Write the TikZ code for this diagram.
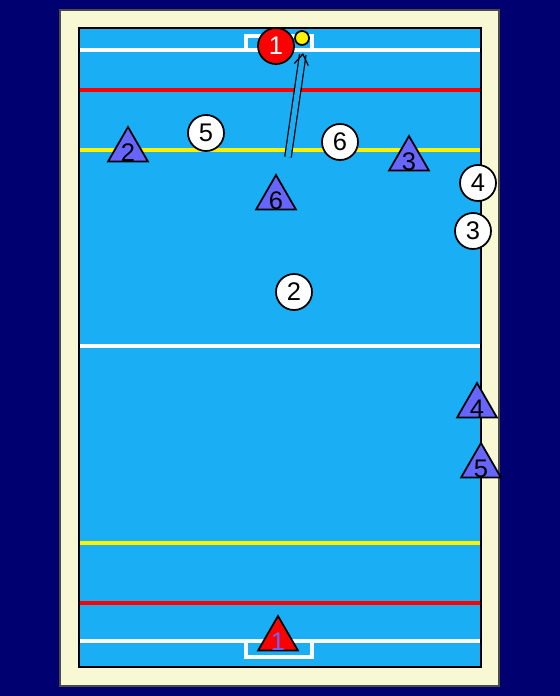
\documentclass[tikz,border=0pt]{standalone}
\usepackage{fontspec}
\setmainfont{Liberation Sans}
\usetikzlibrary{arrows.meta, shapes.geometric}
\definecolor{deepnavy}{RGB}{0,0,112}
\definecolor{deckcream}{RGB}{248,248,212}
\definecolor{poolblue}{RGB}{26,174,245}
\definecolor{teamblue}{RGB}{102,102,255}

\begin{document}
\begin{tikzpicture}[
    x=0.02cm, y=-0.02cm,
    whitecap/.style={circle, draw, line width=1pt, fill=white, minimum size=0.72cm, inner sep=0pt, font=\fontsize{14.5}{16}\selectfont},
    redcap/.style={whitecap, fill=red, text=white},
    bluetri/.style={regular polygon, regular polygon sides=3, draw, line width=1pt, fill=teamblue, minimum size=0.92cm, inner sep=0pt},
    redtri/.style={bluetri, fill=red},
    trinum/.style={font=\fontsize{14.5}{16}\selectfont, inner sep=0pt, anchor=center, yshift=-1.5pt},
    poolline/.style={line width=2.2pt},
    pass/.style={double=poolblue, double distance=3pt, line width=0.7pt, -{Straight Barb[length=6pt, width=8pt]}}
]
% background and pool
\fill[deepnavy] (0,0) rectangle (560,696);
\draw[fill=deckcream, line width=1pt, draw=black!70] (60,10) rectangle (499,686);
\draw[fill=poolblue, line width=1.2pt] (79,28) rectangle (481,667);

% lines
\draw[poolline, white] (80,50) -- (480,50);
\draw[poolline, white] (80,641) -- (480,641);
\draw[poolline, white] (80,346) -- (480,346);
\draw[poolline, red] (80,90) -- (480,90);
\draw[poolline, red] (80,603) -- (480,603);
\draw[poolline, yellow] (80,150) -- (480,150);
\draw[poolline, yellow] (80,543) -- (480,543);

% goals
\draw[poolline, white] (246,50) -- (246,36) -- (312,36) -- (312,50);
\draw[poolline, white] (246,641) -- (246,657) -- (312,657) -- (312,641);

% white team
\node[redcap] (w1) at (276,46) {1};
\node[whitecap] (w5) at (206,133) {5};
\node[whitecap] (w6) at (340,142) {6};
\node[whitecap] (w4) at (478,183) {4};
\node[whitecap] (w3) at (473,231) {3};
\node[whitecap] (w2) at (294,292) {2};

% ball
\node[circle, draw, line width=1pt, fill=yellow, minimum size=0.28cm, inner sep=0pt] (ball) at (302,38) {};

% blue team
\node[bluetri, label={[trinum]center:2}] (b2) at (128,150) {};
\node[bluetri, label={[trinum]center:3}] (b3) at (409,159) {};
\node[bluetri, label={[trinum]center:6}] (b6) at (276,198) {};
\node[bluetri, label={[trinum]center:4}] (b4) at (477,406) {};
\node[bluetri, label={[trinum]center:5}] (b5) at (481,466) {};
\node[redtri, label={[trinum, text=teamblue]center:1}] (b1) at (278,639) {};

% pass
\coordinate (passfrom) at (288,157);
\coordinate (passto) at (303,53);
\draw[pass] (passfrom) -- (passto);
\end{tikzpicture}
\end{document}
